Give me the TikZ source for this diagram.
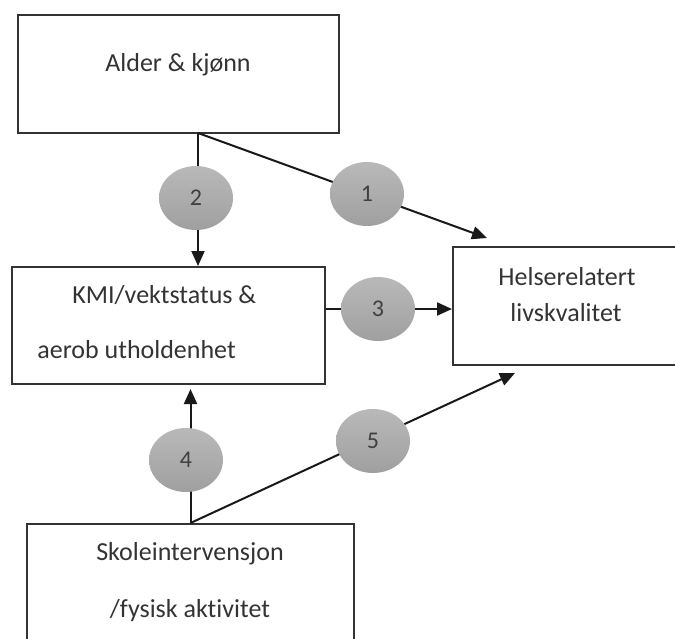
\documentclass[tikz,border=0pt]{standalone}
\usepackage{fontspec}
\setmainfont[Ligatures={NoCommon}]{Carlito}
\usetikzlibrary{arrows.meta,shapes.geometric}
\begin{document}
\begin{tikzpicture}[x=0.5pt,y=-0.5pt,
  boxstyle/.style={draw=black!80, line width=1pt, inner sep=0},
  lbl/.style={font=\fontsize{13}{15}\selectfont, text=black!80, anchor=base, inner sep=0},
  bubble/.style={ellipse, minimum width=37pt, minimum height=32pt, inner sep=0,
    top color=gray!55, bottom color=gray!75, draw=none,
    font=\fontsize{12}{14}\selectfont, text=black!75},
  conn/.style={line width=1pt, draw=black!90},
  tip/.style={-{Triangle[length=7.5pt,width=6.5pt]}}]
\useasboundingbox (0,0) rectangle (675,638);
% boxes
\node[boxstyle, minimum width=160.5pt, minimum height=59pt] (A) at (178.5,74) {};
\node[boxstyle, minimum width=156.5pt, minimum height=58.5pt] (B) at (168.5,325.5) {};
\node[boxstyle, minimum width=123.5pt, minimum height=59pt] (C) at (576.5,306) {};
\node[boxstyle, minimum width=163.5pt, minimum height=78pt] (D) at (190.5,602) {};
% texts
\node[lbl] (tA) at (178,71) {Alder \& kjønn};
\node[lbl, anchor=base west] (tB1) at (72,303) {KMI/vektstatus \&};
\node[lbl, anchor=base west] (tB2) at (37,358) {aerob utholdenhet};
\node[lbl] (tC1) at (567,285) {Helserelatert};
\node[lbl] (tC2) at (566,321) {livskvalitet};
\node[lbl] (tD1) at (190,560) {Skoleintervensjon};
\node[lbl] (tD2) at (190,617) {/fysisk aktivitet};
% connector points
\coordinate (s1) at (198,133);
\coordinate (t1) at (487,238);
\coordinate (y3) at (0,309);
\coordinate (t4) at (190.5,389);
\coordinate (t5) at (515,373);
% connectors
\draw[conn, tip] (s1) -- (s1 |- B.north);
\draw[conn, tip] (s1) -- (t1);
\draw[conn, tip] (B.east |- y3) -- (C.west |- y3);
\draw[conn, tip] (D.north) -- (t4);
\draw[conn, tip] (D.north) -- (t5);
% bubbles
\node[bubble] (b1) at (367,194) {1};
\node[bubble] (b2) at (196,198) {2};
\node[bubble] (b3) at (378,309) {3};
\node[bubble] (b4) at (186,460) {4};
\node[bubble] (b5) at (373,441) {5};
\end{tikzpicture}
\end{document}
